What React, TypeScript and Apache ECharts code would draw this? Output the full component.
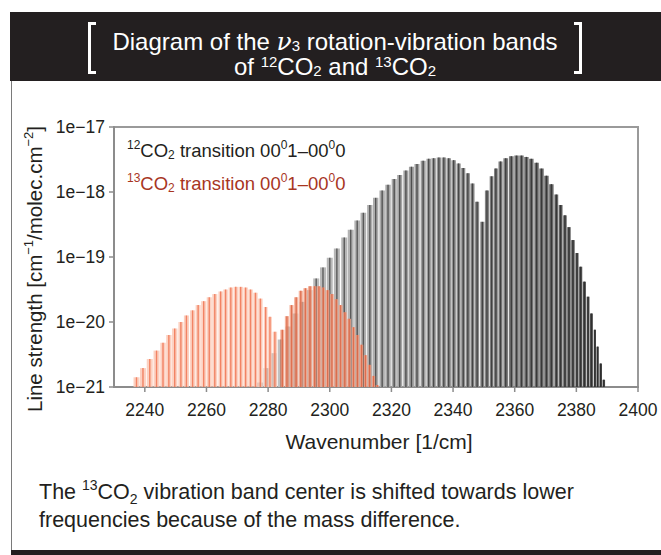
import React, { useEffect, useRef } from 'react';
import * as echarts from 'echarts';

// ---- data ----
const X_TICKS = [2240, 2260, 2280, 2300, 2320, 2340, 2360, 2380, 2400];
const Y_TICK_LABELS = ['1e−21', '1e−20', '1e−19', '1e−18', '1e−17'];

// 12CO2, band 00^01-00^00 (P and R branch lines) — wavenumber [1/cm]
const CO2_12_NU = [
  2277.4, 2279.5, 2281.9, 2284.1, 2286.5, 2288.8, 2291.1, 2293.4, 2295.6, 2297.8,
  2300.0, 2302.3, 2304.7, 2306.8, 2308.9, 2310.9, 2313.0, 2314.9, 2317.0, 2318.9,
  2320.9, 2322.7, 2324.7, 2326.5, 2328.3, 2330.3, 2332.1, 2333.7, 2335.4, 2337.0,
  2338.6, 2340.2, 2341.8, 2343.3, 2344.8, 2346.3, 2347.8,
  2349.5, 2351.0, 2352.5, 2353.9, 2355.4, 2357.1, 2358.9, 2360.6, 2362.2, 2363.8,
  2365.4, 2367.1, 2368.7, 2370.3, 2371.9, 2373.5, 2374.9, 2376.3, 2377.6, 2378.9,
  2380.2, 2381.4, 2382.6, 2383.8, 2384.9, 2386.0, 2386.9, 2387.9, 2388.9,
];
// line strength [cm-1/molec.cm-2]
const CO2_12_S = [
  1.17e-21, 1.95e-21, 3.31e-21, 5.37e-21, 8.51e-21, 1.35e-20, 2.04e-20, 3.09e-20, 4.68e-20, 6.92e-20,
  9.77e-20, 1.35e-19, 2.0e-19, 2.63e-19, 3.63e-19, 4.79e-19, 6.31e-19, 8.13e-19, 1.05e-18, 1.29e-18,
  1.58e-18, 1.82e-18, 2.14e-18, 2.45e-18, 2.69e-18, 3.02e-18, 3.24e-18, 3.31e-18, 3.39e-18, 3.39e-18,
  3.31e-18, 3.09e-18, 2.75e-18, 2.34e-18, 1.95e-18, 1.35e-18, 7.08e-19,
  3.47e-19, 1.05e-18, 1.74e-18, 2.29e-18, 2.95e-18, 3.31e-18, 3.55e-18, 3.63e-18, 3.63e-18, 3.47e-18,
  3.24e-18, 2.82e-18, 2.29e-18, 1.78e-18, 1.32e-18, 9.12e-19, 6.31e-19, 4.37e-19, 2.88e-19, 1.82e-19,
  1.15e-19, 7.08e-20, 4.17e-20, 2.45e-20, 1.35e-20, 7.59e-21, 4.17e-21, 2.29e-21, 1.29e-21,
];

// 13CO2, band 00^01-00^00
const CO2_13_NU = [
  2237.3, 2239.4, 2241.6, 2243.8, 2245.9, 2247.8, 2249.7, 2251.7, 2253.5, 2255.5,
  2257.3, 2259.1, 2260.9, 2262.7, 2264.6, 2266.2, 2267.9, 2269.5, 2271.1, 2272.7,
  2274.3, 2275.9, 2277.5, 2279.2, 2280.6, 2282.2,
  2284.6, 2286.1, 2287.6, 2289.1, 2290.6, 2292.1, 2293.6, 2295.1, 2296.5, 2297.9,
  2299.3, 2300.7, 2302.1, 2303.5, 2304.9, 2306.3, 2307.7, 2309.0, 2310.3, 2311.6,
  2312.9, 2314.2, 2315.4,
];
const CO2_13_S = [
  1.41e-21, 1.95e-21, 2.69e-21, 3.63e-21, 4.79e-21, 6.31e-21, 7.94e-21, 1.0e-20, 1.26e-20, 1.51e-20,
  1.82e-20, 2.09e-20, 2.40e-20, 2.69e-20, 2.95e-20, 3.16e-20, 3.39e-20, 3.47e-20, 3.47e-20, 3.39e-20,
  3.16e-20, 2.82e-20, 2.29e-20, 1.70e-20, 1.20e-20, 7.08e-21,
  7.59e-21, 1.23e-20, 1.82e-20, 2.40e-20, 3.02e-20, 3.31e-20, 3.55e-20, 3.55e-20, 3.55e-20, 3.39e-20,
  3.09e-20, 2.69e-20, 2.24e-20, 1.82e-20, 1.41e-20, 1.12e-20, 8.32e-21, 6.31e-21, 4.47e-21, 3.09e-21,
  2.19e-21, 1.48e-21, 1.07e-21,
];
const CO2_13_CENTER = 2283.5;

const X_MIN = 2230;
const X_MAX = 2400;
const Y_MIN = 1e-21;
const Y_AXIS_MIN = 0.999e-21; // a hair below 1e-21 so the bottom decade tick is kept
const Y_MAX = 1e-17;

const FONT = "'Liberation Sans', Arial, Helvetica, sans-serif";
const INK = '#231f20';
const AXIS_GRAY = '#8c8c8c';

function gray(v: number) {
  const c = Math.max(0, Math.min(255, Math.round(v)));
  return `rgb(${c},${c},${c})`;
}

function makeRenderItem(
  nus: number[],
  fillOf: (nu: number) => string,
  lineOf: (nu: number) => string,
  opacity: number
) {
  return (params: any, api: any) => {
    const i = params.dataIndex;
    const nu = api.value(0);
    const s = api.value(1);
    const p0 = api.coord([nu, Y_AXIS_MIN]);
    const p1 = api.coord([nu, s]);
    const dPrev = i > 0 ? nu - nus[i - 1] : Infinity;
    const dNext = i < nus.length - 1 ? nus[i + 1] - nu : Infinity;
    const d = Math.min(dPrev, dNext);
    const dpx = api.coord([nu + d, Y_AXIS_MIN])[0] - p0[0];
    const w = Math.max(1.5, Math.min(6, dpx - 0.5));
    const h = p0[1] - p1[1];
    return {
      type: 'group',
      children: [
        {
          type: 'rect',
          shape: { x: p0[0] - w / 2, y: p1[1], width: w, height: h },
          style: { fill: fillOf(nu), opacity },
        },
        {
          type: 'rect',
          shape: { x: p0[0] - 0.7, y: p1[1], width: 1.4, height: h },
          style: { fill: lineOf(nu), opacity },
        },
      ],
    };
  };
}

const t12 = (nu: number) => Math.max(0, Math.min(1, (nu - 2277) / (2390 - 2277)));
const fill12 = (nu: number) => gray(195 - 115 * Math.pow(t12(nu), 1.5));
const line12 = (nu: number) => gray(105 - 60 * t12(nu));
const fill13 = (nu: number) => (nu < CO2_13_CENTER ? '#fbc5b1' : '#f2a287');
const line13 = (nu: number) => (nu < CO2_13_CENTER ? '#ef6f4c' : '#d9603e');

const renderXTick = (params: any, api: any) => {
  const v = api.value(0);
  const p = api.coord([v, Y_AXIS_MIN]);
  return {
    type: 'group',
    children: [
      {
        type: 'line',
        shape: { x1: p[0], y1: p[1], x2: p[0], y2: p[1] + 5 },
        style: { stroke: AXIS_GRAY, lineWidth: 1.5 },
      },
      {
        type: 'text',
        x: p[0],
        y: p[1] + 23,
        style: {
          text: String(v),
          align: 'center',
          verticalAlign: 'middle',
          fontSize: 17.5,
          fontFamily: FONT,
          fill: INK,
        },
      },
    ],
  };
};

export default function App() {
  const ref = useRef<HTMLDivElement>(null);

  useEffect(() => {
    if (!ref.current) return;
    const chart = echarts.init(ref.current, undefined, { renderer: 'svg' });

    const W = '#ffffff';
    const supT = { fontSize: 15, lineHeight: 13, verticalAlign: 'top', fill: W, fontFamily: FONT };
    const subT = { fontSize: 15, lineHeight: 13, verticalAlign: 'bottom', fill: W, fontFamily: FONT };
    const nT = { fontSize: 24, lineHeight: 24, fill: W, fontFamily: FONT };
    const nuT = { fontSize: 25, lineHeight: 24, fill: W, fontFamily: "'DejaVu Serif', 'Liberation Serif', serif", fontStyle: 'italic' };
    const titleRich = { n: nT, nu: nuT, sp: supT, sb: subT };

    const legRich = (color: string) => ({
      n: { fontSize: 18.5, lineHeight: 22, fill: color, fontFamily: FONT },
      sp: { fontSize: 12, lineHeight: 13, verticalAlign: 'top', fill: color, fontFamily: FONT },
      sb: { fontSize: 12, lineHeight: 13, verticalAlign: 'bottom', fill: color, fontFamily: FONT },
    });
    const legText = '{sp|12}{n|CO}{sb|2}{n| transition 00}{sp|0}{n|1–00}{sp|0}{n|0}';
    const legText13 = '{sp|13}{n|CO}{sb|2}{n| transition 00}{sp|0}{n|1–00}{sp|0}{n|0}';

    const option: any = {
      animation: false,
      grid: {
        left: 114,
        right: 23,
        top: 127,
        bottom: 168,
        show: true,
        borderColor: '#9a9a9a',
        borderWidth: 2,
        outerBoundsMode: 'none',
      },
      xAxis: {
        type: 'value',
        min: X_MIN,
        max: X_MAX,
        axisLine: { show: true, onZero: false, lineStyle: { color: AXIS_GRAY, width: 2 } },
        axisTick: { show: false },
        axisLabel: { show: false },
        splitLine: { show: false },
      },
      yAxis: {
        type: 'log',
        logBase: 10,
        min: Y_AXIS_MIN,
        max: Y_MAX,
        axisLine: { show: true, lineStyle: { color: AXIS_GRAY, width: 2 } },
        axisTick: { show: true, length: 5, lineStyle: { color: AXIS_GRAY, width: 1.5 } },
        axisLabel: {
          color: INK,
          fontSize: 17.5,
          fontFamily: FONT,
          margin: 9,
          showMinLabel: true,
          showMaxLabel: true,
          hideOverlap: false,
          formatter: (v: number) => {
            const e = Math.round(Math.log10(v));
            return Y_TICK_LABELS[e + 21] ?? '';
          },
        },
        splitLine: { show: false },
      },
      series: [
        {
          type: 'custom',
          name: '12CO2',
          renderItem: makeRenderItem(CO2_12_NU, fill12, line12, 1),
          data: CO2_12_NU.map((n, i) => [n, CO2_12_S[i]]),
          encode: { x: 0, y: 1 },
          clip: true,
          z: 2,
        },
        {
          type: 'custom',
          name: '13CO2',
          renderItem: makeRenderItem(CO2_13_NU, fill13, line13, 0.8),
          data: CO2_13_NU.map((n, i) => [n, CO2_13_S[i]]),
          encode: { x: 0, y: 1 },
          clip: true,
          z: 3,
        },
        {
          type: 'custom',
          name: 'xticks',
          renderItem: renderXTick,
          data: X_TICKS.map((v) => [v, Y_MIN]),
          encode: { x: 0, y: 1 },
          clip: false,
          silent: true,
          z: 4,
        },
      ],
      graphic: [
        // title bar
        { type: 'rect', shape: { x: 10, y: 12, width: 651, height: 69 }, style: { fill: INK }, z: 10 },
        {
          type: 'polyline',
          shape: { points: [[96, 23.5], [89.5, 23.5], [89.5, 72.5], [96, 72.5]] },
          style: { stroke: '#fff', lineWidth: 3, fill: 'none' },
          z: 11,
        },
        {
          type: 'polyline',
          shape: { points: [[574, 23.5], [580.5, 23.5], [580.5, 72.5], [574, 72.5]] },
          style: { stroke: '#fff', lineWidth: 3, fill: 'none' },
          z: 11,
        },
        {
          type: 'text',
          x: 335,
          y: 41,
          z: 11,
          style: {
            text: '{n|Diagram of the }{nu|ν}{sb|3}{n| rotation-vibration bands}',
            align: 'center',
            verticalAlign: 'middle',
            rich: titleRich,
          },
        },
        {
          type: 'text',
          x: 335,
          y: 66,
          z: 11,
          style: {
            text: '{n|of }{sp|12}{n|CO}{sb|2}{n| and }{sp|13}{n|CO}{sb|2}',
            align: 'center',
            verticalAlign: 'middle',
            rich: titleRich,
          },
        },
        // outer frame
        { type: 'line', shape: { x1: 11.5, y1: 81, x2: 11.5, y2: 551 }, style: { stroke: '#7a7a7a', lineWidth: 1 }, z: 10 },
        { type: 'rect', shape: { x: 11, y: 550, width: 650, height: 5 }, style: { fill: INK }, z: 10 },
        // legend
        {
          type: 'text',
          x: 127,
          y: 150,
          z: 11,
          style: { text: legText, align: 'left', verticalAlign: 'middle', rich: legRich('#231f20') },
        },
        {
          type: 'text',
          x: 127,
          y: 183,
          z: 11,
          style: { text: legText13, align: 'left', verticalAlign: 'middle', rich: legRich('#a8361f') },
        },
        // axis names
        {
          type: 'text',
          x: 379,
          y: 441,
          z: 11,
          style: { text: 'Wavenumber [1/cm]', align: 'center', verticalAlign: 'middle', fontSize: 21, fontFamily: FONT, fill: INK },
        },
        {
          type: 'text',
          x: 34,
          y: 269,
          rotation: Math.PI / 2,
          z: 11,
          style: {
            text: '{n|Line strength [cm}{sp|−1}{n|/molec.cm}{sp|−2}{n|]}',
            align: 'center',
            verticalAlign: 'middle',
            rich: {
              n: { fontSize: 20.5, lineHeight: 24, fill: INK, fontFamily: FONT },
              sp: { fontSize: 13, lineHeight: 14, verticalAlign: 'top', fill: INK, fontFamily: FONT },
            },
          },
        },
        // caption
        {
          type: 'text',
          x: 39,
          y: 478,
          z: 11,
          style: {
            text:
              '{n|The }{sp|13}{n|CO}{sb|2}{n| vibration band center is shifted towards lower}\n' +
              '{n|frequencies because of the mass difference.}',
            align: 'left',
            verticalAlign: 'top',
            rich: {
              n: { fontSize: 21.5, lineHeight: 28, fill: INK, fontFamily: FONT },
              sp: { fontSize: 14, lineHeight: 18, verticalAlign: 'top', fill: INK, fontFamily: FONT },
              sb: { fontSize: 14, lineHeight: 18, verticalAlign: 'bottom', fill: INK, fontFamily: FONT },
            },
          },
        },
      ],
    };

    chart.setOption(option);
    return () => chart.dispose();
  }, []);

  return (
    <div
      ref={ref}
      style={{ position: 'absolute', left: 0, top: 0, width: 661, height: 555, background: '#fff' }}
    />
  );
}
